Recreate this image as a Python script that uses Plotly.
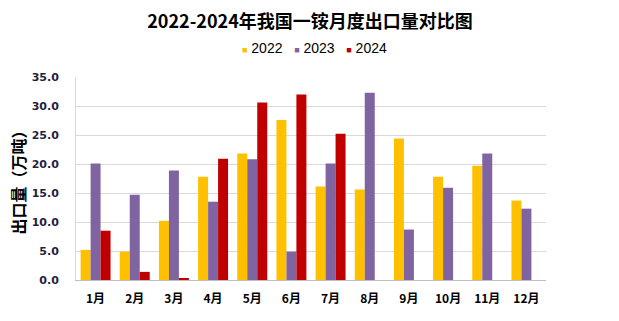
import plotly.graph_objects as go

months = ["1月", "2月", "3月", "4月", "5月", "6月", "7月", "8月", "9月", "10月", "11月", "12月"]
v2022 = [5.2, 4.9, 10.2, 17.8, 21.8, 27.6, 16.1, 15.6, 24.4, 17.8, 19.7, 13.7]
v2023 = [20.1, 14.7, 18.9, 13.5, 20.8, 4.9, 20.1, 32.3, 8.7, 15.9, 21.8, 12.3]
v2024 = [8.5, 1.4, 0.2, 20.9, 30.6, 32.0, 25.2, None, None, None, None, None]
series_names = ["2022", "2023", "2024"]
colors = ["#FFC000", "#8064A2", "#C00000"]
y_ticks = [0, 5, 10, 15, 20, 25, 30, 35]

CJK = "Noto Sans CJK SC"
fig = go.Figure()
for name, vals, c in zip(series_names, [v2022, v2023, v2024], colors):
    fig.add_trace(go.Bar(x=months, y=vals, name=name, marker=dict(color=c, line=dict(width=0))))

legend_text = "&nbsp;&nbsp;&nbsp;".join(
    f'<span style="color:{c};font-size:9px">■</span>&nbsp;{n}' for n, c in zip(series_names, colors)
)

fig.update_layout(
    width=619, height=321,
    margin=dict(l=76, r=73, t=77, b=41),
    paper_bgcolor="white", plot_bgcolor="white",
    barmode="group", bargap=0.235, bargroupgap=0,
    showlegend=False,
    title=dict(text="<b>2022-2024年我国一铵月度出口量对比图</b>", x=310 / 619, xanchor="center",
               y=1 - 22 / 321, yanchor="middle", font=dict(family=CJK, size=18, color="#000000")),
    annotations=[dict(text=legend_text, xref="paper", yref="paper", x=(314 - 76) / 470, y=(280 - 48) / 203,
                      xanchor="center", yanchor="middle", showarrow=False,
                      font=dict(family="Liberation Sans Narrow, Arial Narrow, Liberation Sans", size=14, color="#000"))],
    font=dict(family=CJK, color="#000"),
)
fig.update_xaxes(showgrid=False, showline=True, linecolor="#BFBFBF", linewidth=1, ticks="",
                 tickfont=dict(family=CJK, size=12, color="#000", weight="bold"), ticklabelstandoff=8)
fig.update_yaxes(range=[0, 35], tickvals=y_ticks, ticktext=[f"{t:.1f}" for t in y_ticks],
                 showgrid=True, gridcolor="#D9D9D9", gridwidth=1, showline=True, linecolor="#D9D9D9",
                 zeroline=False, ticks="", ticklabelstandoff=14,
                 tickfont=dict(family="Verdana, DejaVu Sans", size=11, color="#1F1F3F", weight="bold"),
                 title=dict(text="<b>出口量（万吨）</b>", font=dict(family=CJK, size=16, color="#000"), standoff=2))

fig.write_html("out.html")
